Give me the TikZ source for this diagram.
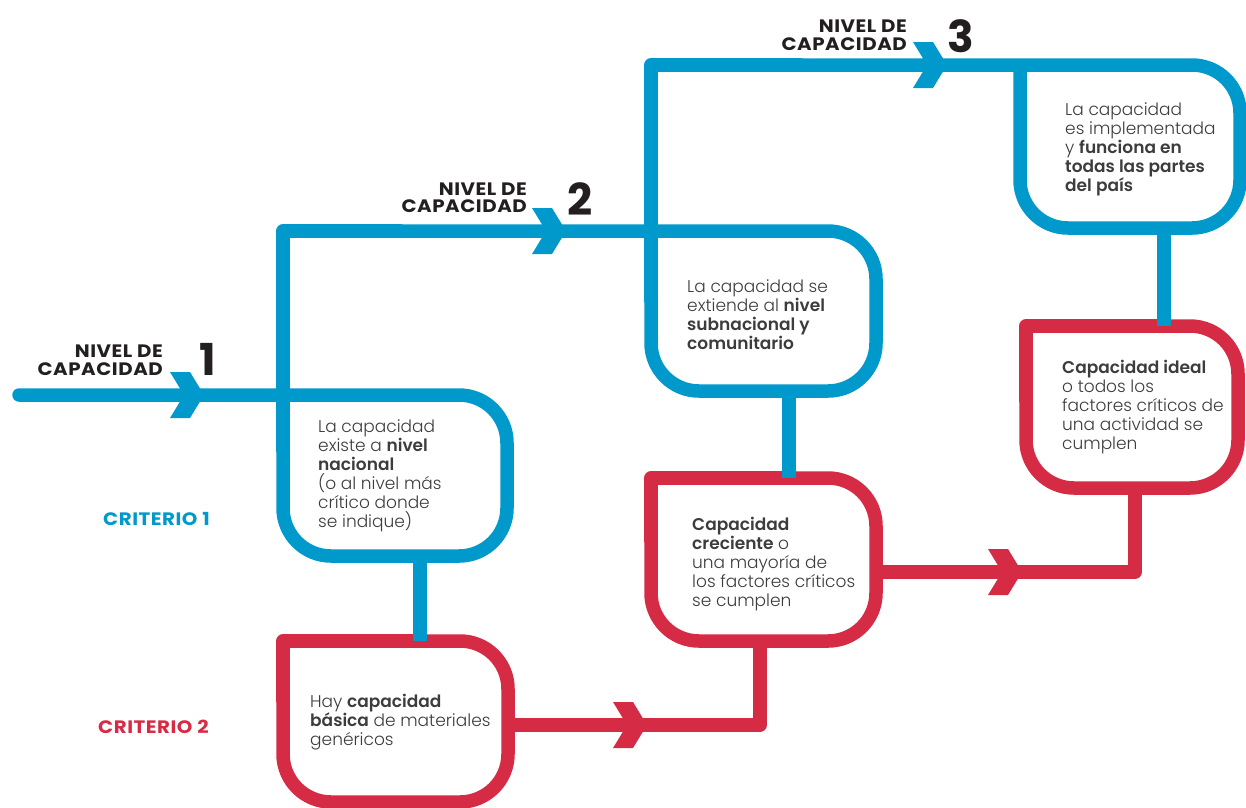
\documentclass[tikz,border=0pt]{standalone}
\usepackage{fontspec}
\setmainfont{Poppins}[UprightFont=* Light, BoldFont=* SemiBold]
\newfontfamily\headfont{Poppins}[UprightFont=* Bold, LetterSpace=3, FakeStretch=1.1]
\newfontfamily\numfont{Poppins}[UprightFont=* Bold]
\definecolor{cblue}{RGB}{0,153,204}
\definecolor{cred}{RGB}{214,43,69}
\definecolor{ctext}{RGB}{35,31,32}
\definecolor{cbody}{RGB}{60,60,60}
\tikzset{
  bline/.style={draw=cblue, line width=13.5pt, line cap=round, line join=round},
  rline/.style={draw=cred, line width=13.5pt, line cap=round, line join=round},
  bodytext/.style={anchor=base west, inner sep=0pt, align=left, text=cbody,
     font={\fontsize{17}{19}\selectfont}},
  headtext/.style={anchor=base east, inner sep=0pt, align=right, text=ctext,
     font={\headfont\fontsize{18}{18}\selectfont}},
  numtext/.style={anchor=base west, inner sep=0pt, text=ctext,
     font={\numfont\fontsize{44}{44}\selectfont}},
  crittext/.style={anchor=base west, inner sep=0pt,
     font={\headfont\fontsize{18}{18}\selectfont}},
  chev/.pic={\fill[pic actions] (-30,-23) -- (-10,-23) -- (4,0) -- (-10,23) -- (-30,23) -- (-16,0) -- cycle;}
}
\begin{document}
\begin{tikzpicture}[x=1pt,y=-1pt]
\useasboundingbox (0,0) rectangle (1246,807);
% named coordinates
\coordinate (start) at (19,395);
\coordinate (b1tr) at (507,395);
\coordinate (b1br) at (507,556);
\coordinate (b1bl) at (283,556);
\coordinate (l2c) at (283,231);
\coordinate (b2tr) at (876,231);
\coordinate (b2br) at (876,391);
\coordinate (b2bl) at (651,391);
\coordinate (l3c) at (651,65);
\coordinate (bdtr) at (1240,65);
\coordinate (bdbr) at (1240,228);
\coordinate (bdbl) at (1020,228);
\coordinate (bdtl) at (1020,65);
% blue main path
\draw[bline, rounded corners=48] (start) -- (b1tr) -- (b1br) -- (b1bl) -- (283,450);
\draw[bline] (283,450) -- (l2c) -- (400,231);
\draw[bline, rounded corners=48] (400,231) -- (b2tr) -- (b2br) -- (b2bl) -- (651,300);
\draw[bline] (651,300) -- (l3c) -- (800,65);
\draw[bline, rounded corners=48] (800,65) -- (bdtr) -- (bdbr) -- (bdbl) -- (bdtl);
% red boxes
\coordinate (ra) at (283,641);
\coordinate (rb) at (651,478);
\coordinate (rc) at (1026,326);
\draw[rline, rounded corners=48] (420,641) -- (508,641) -- (508,802) -- (283,802) -- (283,700);
\draw[rline] (283,700) -- (ra) -- (420,641);
\draw[rline, rounded corners=48] (789,478) -- (876,478) -- (876,641) -- (651,641) -- (651,540);
\draw[rline] (651,540) -- (rb) -- (789,478);
\draw[rline, rounded corners=48] (1164,326) -- (1238,326) -- (1238,488) -- (1026,488) -- (1026,400);
\draw[rline] (1026,400) -- (rc) -- (1164,326);
% blue connectors
\draw[bline, line cap=butt] (420,556) -- (420,641);
\draw[bline, line cap=butt] (789,391) -- (789,478);
\draw[bline, line cap=butt] (1164,228) -- (1164,326);
% red connectors
\draw[rline, line cap=butt] (508,725) -- (760,725) -- (760,641);
\draw[rline, line cap=butt] (876,572) -- (1135,572) -- (1135,488);
% chevrons
\pic[fill=cblue] at (200,395) {chev};
\pic[fill=cblue] at (562,231) {chev};
\pic[fill=cblue] at (943,65) {chev};
\pic[fill=cred] at (643,725) {chev};
\pic[fill=cred] at (1018,572) {chev};
% headers
\node[headtext] (h1a) at (163,357) {NIVEL DE};
\node[headtext] (h1b) at (163,375) {CAPACIDAD};
\node[numtext] (n1) at (199,375) {1};
\node[headtext] (h2a) at (527,195) {NIVEL DE};
\node[headtext] (h2b) at (527,212) {CAPACIDAD};
\node[numtext] (n2) at (567,215) {2};
\node[headtext] (h3a) at (907,32) {NIVEL DE};
\node[headtext] (h3b) at (907,50) {CAPACIDAD};
\node[numtext] (n3) at (947,52) {3};
% criteria
\node[crittext, text=cblue] (c1) at (103,525) {CRITERIO 1};
\node[crittext, text=cred] (c2) at (98,733) {CRITERIO 2};
% box texts (anchor = baseline of last line)
\node[bodytext] (t1) at (318,527) {La capacidad\\existe a \textbf{nivel}\\\textbf{nacional}\\(o al nivel más\\crítico donde\\se indique)};
\node[bodytext] (t2) at (687,349) {La capacidad se\\extiende al \textbf{nivel}\\\textbf{subnacional y}\\\textbf{comunitario}};
\node[bodytext] (t3) at (1065,191) {La capacidad\\es implementada\\y \textbf{funciona en}\\\textbf{todas las partes}\\\textbf{del país}};
\node[bodytext] (ta) at (310,745) {Hay \textbf{capacidad}\\\textbf{básica} de materiales\\genéricos};
\node[bodytext] (tb) at (692,606) {\textbf{Capacidad}\\\textbf{creciente} o\\una mayoría de\\los factores críticos\\se cumplen};
\node[bodytext] (tc) at (1062,449) {\textbf{Capacidad ideal}\\o todos los\\factores críticos de\\una actividad se\\cumplen};
\end{tikzpicture}
\end{document}
